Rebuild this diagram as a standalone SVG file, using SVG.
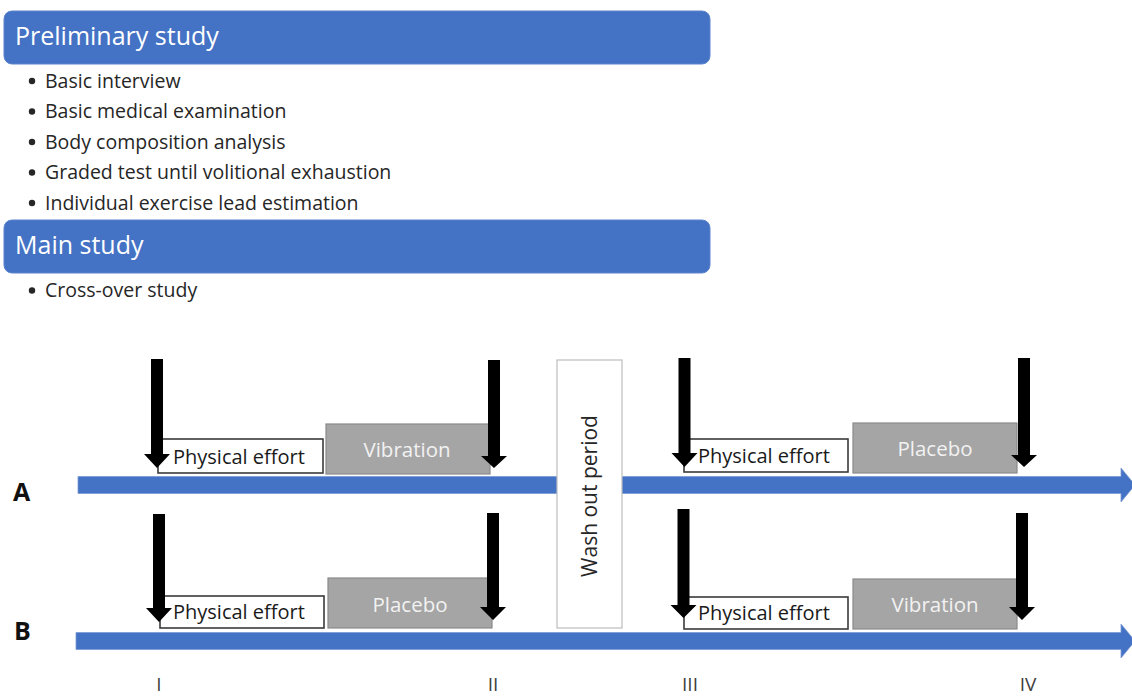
<svg xmlns="http://www.w3.org/2000/svg" width="1132" height="697" viewBox="0 0 1132 697">
<style>
.hdr{fill:#4472C4;stroke:#5b84cc;stroke-width:1}
.hdrt{font-family:"Open Sans","Liberation Sans",sans-serif;font-size:25px;fill:#ffffff}
.bul{font-family:"Open Sans","Liberation Sans",sans-serif;font-size:19.5px;fill:#262626}
.dot{fill:#262626}
.tl{fill:#4472C4;stroke:#7b9bd6;stroke-width:0.8}
.pe{fill:#ffffff;stroke:#3a3a3a;stroke-width:1.6}
.pet{font-family:"Open Sans","Liberation Sans",sans-serif;font-size:20px;fill:#1a1a1a}
.gb{fill:#A5A5A5;stroke:#8a8a8a;stroke-width:1.2}
.gbt{font-family:"Open Sans","Liberation Sans",sans-serif;font-size:20.5px;fill:#f2f2f2;text-anchor:middle}
.wash{fill:#ffffff;stroke:#bdbdbd;stroke-width:1.2}
.washt{font-family:"Open Sans","Liberation Sans",sans-serif;font-size:21px;fill:#262626;text-anchor:middle}
.arr{fill:#000000}
.grp{font-family:"Open Sans","Liberation Sans",sans-serif;font-size:25px;font-weight:bold;fill:#111111}
.tick{font-family:"Open Sans","Liberation Sans",sans-serif;font-size:19px;fill:#404040;text-anchor:middle}
</style>

<g id="preliminary-header">
<rect class="hdr" x="4" y="11" width="706" height="53" rx="8"/>
<text class="hdrt" x="15" y="45">Preliminary study</text>
</g>
<g id="preliminary-list">
<circle class="dot" cx="32" cy="81" r="3.2"/><text class="bul" x="45" y="87.5">Basic interview</text>
<circle class="dot" cx="32" cy="111.5" r="3.2"/><text class="bul" x="45" y="118">Basic medical examination</text>
<circle class="dot" cx="32" cy="142" r="3.2"/><text class="bul" x="45" y="148.5">Body composition analysis</text>
<circle class="dot" cx="32" cy="172.5" r="3.2"/><text class="bul" x="45" y="179">Graded test until volitional exhaustion</text>
<circle class="dot" cx="32" cy="203" r="3.2"/><text class="bul" x="45" y="209.5">Individual exercise lead estimation</text>
</g>
<g id="main-header">
<rect class="hdr" x="4" y="220" width="706" height="53" rx="8"/>
<text class="hdrt" x="15" y="254">Main study</text>
</g>
<g id="main-list">
<circle class="dot" cx="32" cy="290.5" r="3.2"/><text class="bul" x="45" y="297">Cross-over study</text>
</g>

<g id="connectors">
<polygon id="timeline-A" class="tl" points="78,476.5 1121,476.5 1121,468 1135,485 1121,502 1121,493.5 78,493.5"/>
<polygon id="timeline-B" class="tl" points="76,632.5 1121,632.5 1121,624 1135,641 1121,658 1121,649.5 76,649.5"/>
</g>

<g id="label-A"><text class="grp" x="13" y="501">A</text></g>
<g id="label-B"><text class="grp" x="14" y="640">B</text></g>

<g id="A-physical-effort-1">
<rect class="pe" x="158" y="439" width="165" height="34"/>
<text class="pet" x="173" y="464">Physical effort</text>
</g>
<g id="A-vibration">
<rect class="gb" x="326" y="424" width="164" height="50"/>
<text class="gbt" x="407" y="457">Vibration</text>
</g>
<g id="A-physical-effort-2">
<rect class="pe" x="684" y="439" width="164" height="33"/>
<text class="pet" x="698" y="463">Physical effort</text>
</g>
<g id="A-placebo">
<rect class="gb" x="853" y="423" width="164" height="50"/>
<text class="gbt" x="935" y="456">Placebo</text>
</g>

<g id="B-physical-effort-1">
<rect class="pe" x="160" y="596" width="164" height="32"/>
<text class="pet" x="173" y="619">Physical effort</text>
</g>
<g id="B-placebo">
<rect class="gb" x="328" y="578" width="164" height="50"/>
<text class="gbt" x="410" y="612">Placebo</text>
</g>
<g id="B-physical-effort-2">
<rect class="pe" x="684" y="597" width="164" height="32"/>
<text class="pet" x="698" y="620">Physical effort</text>
</g>
<g id="B-vibration">
<rect class="gb" x="853" y="579" width="164" height="50"/>
<text class="gbt" x="935" y="612">Vibration</text>
</g>

<g id="wash-out">
<rect class="wash" x="557" y="360" width="65" height="268"/>
<text class="washt" transform="translate(597,496) rotate(-90)">Wash out period</text>
</g>

<g id="measurement-arrows">
<polygon class="arr" points="151,359 163,359 163,454 170,454 157,468 144,454 151,454"/>
<polygon class="arr" points="488,360 500,360 500,456 507,456 494,468 481,456 488,456"/>
<polygon class="arr" points="678.5,358 690.5,358 690.5,453 697.5,453 684.5,467 671.5,453 678.5,453"/>
<polygon class="arr" points="1018,358 1030,358 1030,455 1037,455 1024,467 1011,455 1018,455"/>
<polygon class="arr" points="153,514 165,514 165,608 172,608 159,622 146,608 153,608"/>
<polygon class="arr" points="487,513 499,513 499,607 506,607 493,620 480,607 487,607"/>
<polygon class="arr" points="677.5,509 689.5,509 689.5,605 696.5,605 683.5,618 670.5,605 677.5,605"/>
<polygon class="arr" points="1016,513 1028,513 1028,607 1035,607 1022,620 1009,607 1016,607"/>
</g>

<g id="time-points">
<text class="tick" x="159" y="691">I</text>
<text class="tick" x="493" y="691">II</text>
<text class="tick" x="690" y="691">III</text>
<text class="tick" x="1028" y="691">IV</text>
</g>
</svg>
